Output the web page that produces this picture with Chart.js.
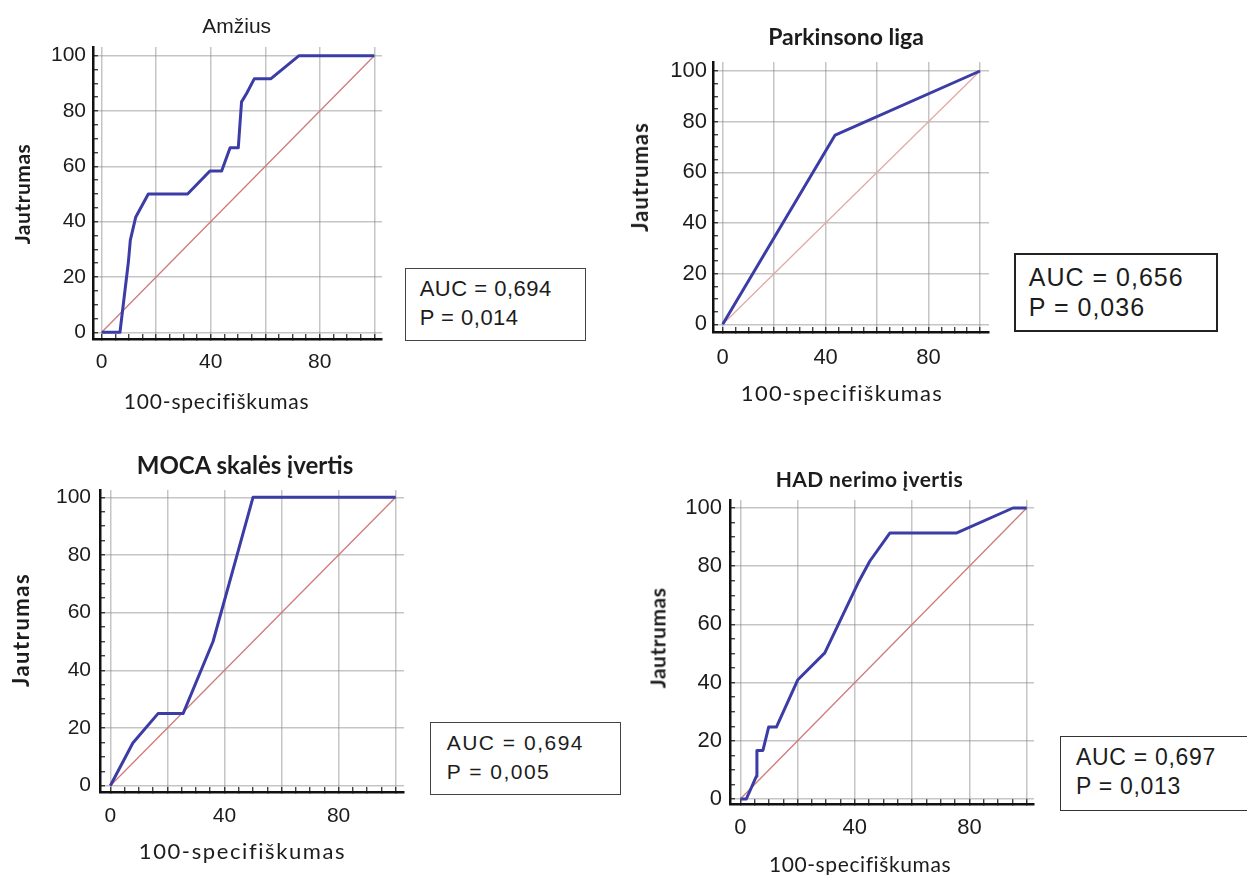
<!DOCTYPE html>
<html>
<head>
<meta charset="utf-8">
<script src="https://cdn.jsdelivr.net/npm/chart.js@4.4.1/dist/chart.umd.min.js"></script>
<style>
  html, body { margin: 0; padding: 0; background: #fff; }
  body { width: 1247px; height: 875px; position: relative; overflow: hidden; }
  canvas { position: absolute; }
  .t { position: absolute; white-space: nowrap; line-height: 1; color: #1c1c1c; transform: translate(-50%, -50%); }
  .ttl { font-family: Lato, sans-serif; font-weight: 700; }
  .yt { font-family: Lato, sans-serif; font-weight: 700; transform: translate(-50%, -50%) rotate(-90deg); }
  .xt { font-family: Lato, sans-serif; font-weight: 400; }
  .box { position: absolute; box-sizing: border-box; background: #fff; }
  .bt { position: absolute; white-space: nowrap; line-height: 1; color: #1c1c1c; font-family: "Liberation Sans", Arial, sans-serif; transform: translateY(-50%); }
</style>
</head>
<body>
<canvas id="c1"></canvas>
<canvas id="c2"></canvas>
<canvas id="c3"></canvas>
<canvas id="c4"></canvas>

<!-- Chart 1 texts -->
<div class="t" style="left:236.7px;top:25.3px;font-family:'Liberation Sans',Arial,sans-serif;font-size:21px;">Amžius</div>
<div class="t yt" style="left:20.8px;top:194px;font-size:21px;letter-spacing:0.5px;">Jautrumas</div>
<div class="t xt" style="left:216.7px;top:400px;font-size:21px;letter-spacing:0.8px;">100-specifiškumas</div>
<div class="box" style="left:405px;top:268px;width:181px;height:73px;border:1.5px solid #444;"></div>
<div class="bt" style="left:419.7px;top:289.3px;font-size:22px;letter-spacing:0.5px;">AUC = 0,694</div>
<div class="bt" style="left:419.7px;top:318.2px;font-size:22px;letter-spacing:0.5px;">P = 0,014</div>

<!-- Chart 2 texts -->
<div class="t ttl" style="left:846px;top:35.8px;font-size:23px;">Parkinsono liga</div>
<div class="t yt" style="left:640px;top:176.7px;font-size:22px;letter-spacing:1px;">Jautrumas</div>
<div class="t xt" style="left:842px;top:392.5px;font-size:22px;letter-spacing:1.3px;">100-specifiškumas</div>
<div class="box" style="left:1014px;top:253px;width:204px;height:79px;border:2px solid #222;"></div>
<div class="bt" style="left:1028.8px;top:277.2px;font-size:25px;letter-spacing:1px;">AUC = 0,656</div>
<div class="bt" style="left:1028.8px;top:307.2px;font-size:25px;letter-spacing:1px;">P = 0,036</div>

<!-- Chart 3 texts -->
<div class="t ttl" style="left:245px;top:464.5px;font-size:24px;">MOCA skalės įvertis</div>
<div class="t yt" style="left:21px;top:630px;font-size:22px;letter-spacing:1.5px;">Jautrumas</div>
<div class="t xt" style="left:242.5px;top:851.3px;font-size:22px;letter-spacing:1.6px;">100-specifiškumas</div>
<div class="box" style="left:430px;top:722px;width:191px;height:73px;border:1.5px solid #444;"></div>
<div class="bt" style="left:446.7px;top:742px;font-size:21px;letter-spacing:1.5px;">AUC = 0,694</div>
<div class="bt" style="left:446.7px;top:771.3px;font-size:21px;letter-spacing:1.5px;">P = 0,005</div>

<!-- Chart 4 texts -->
<div class="t ttl" style="left:869.4px;top:477.5px;font-size:21px;letter-spacing:0.4px;">HAD nerimo įvertis</div>
<div class="t yt" style="left:657.4px;top:638.3px;font-size:21px;letter-spacing:0.5px;">Jautrumas</div>
<div class="t xt" style="left:860px;top:862.5px;font-size:21px;letter-spacing:0.6px;">100-specifiškumas</div>
<div class="box" style="left:1060px;top:736px;width:200px;height:75px;border:1.5px solid #333;"></div>
<div class="bt" style="left:1076px;top:756.7px;font-size:23px;letter-spacing:0.7px;">AUC = 0,697</div>
<div class="bt" style="left:1076px;top:785.6px;font-size:23px;letter-spacing:0.7px;">P = 0,013</div>

<script>
// ---------------- DATA ----------------
// Amžius (age)
const ageFpr = [0, 6.7, 9.8, 10.5, 12.5, 17.1, 31.5, 39.7, 44.0, 47.1, 50.1, 51.3, 53.2, 56.0, 62.1, 72.4, 100];
const ageTpr = [0, 0, 25.5, 33.3, 41.7, 50.0, 50.0, 58.3, 58.3, 66.7, 66.7, 83.3, 86.4, 91.7, 91.7, 100, 100];
// Parkinsono liga
const pdFpr = [0, 43.7, 100];
const pdTpr = [0, 74.7, 100];
// MOCA skalės įvertis
const mocaFpr = [0, 7.9, 16.7, 25.5, 36.0, 43.0, 50.0, 100];
const mocaTpr = [0, 14.8, 25.0, 25.0, 50.0, 74.9, 100, 100];
// HAD nerimo įvertis
const hadFpr = [0, 2.1, 5.6, 5.8, 7.9, 9.9, 12.6, 20.1, 29.5, 41.1, 45.2, 52.2, 75.4, 95.2, 100];
const hadTpr = [0, 0, 7.8, 16.7, 16.7, 24.7, 24.7, 41.0, 50.2, 74.2, 81.7, 91.4, 91.4, 100, 100];
// reference diagonal
const diagX = [0, 100];
const diagY = [0, 100];
// ticks
const tickValues = [0, 5, 10, 15, 20, 25, 30, 35, 40, 45, 50, 55, 60, 65, 70, 75, 80, 85, 90, 95, 100];
const gridValues = [0, 20, 40, 60, 80, 100];
const xLabelValues = [0, 40, 80];
const yLabelValues = [0, 20, 40, 60, 80, 100];

// ---------------- LAYOUT ----------------
const WY = 64, PAD_TOP = 42, PAD_RIGHT = 34, HX = 50;
const charts = [
  { id: 'c1', fpr: ageFpr, tpr: ageTpr, L: 93, R: 382, T: 47, B: 339, x0: 101.7, x100: 374.3, y100: 55.7, y0: 332.3,
    font: 21, yPad: 12, xPad: 15.4, diag: '#cf7b7b', curve: '#3c3ca6' },
  { id: 'c2', fpr: pdFpr, tpr: pdTpr, L: 713, R: 989, T: 62, B: 332, x0: 722.7, x100: 980, y100: 71, y0: 324.3,
    font: 22, yPad: 11, xPad: 18.1, diag: '#e2a9a9', curve: '#3c3ca6' },
  { id: 'c3', fpr: mocaFpr, tpr: mocaTpr, L: 100, R: 404, T: 490, B: 792, x0: 110.3, x100: 395.7, y100: 497.3, y0: 785.7,
    font: 21, yPad: 14, xPad: 16.2, diag: '#cf7b7b', curve: '#3c3ca6' },
  { id: 'c4', fpr: hadFpr, tpr: hadTpr, L: 730, R: 1034, T: 500, B: 804, x0: 740.3, x100: 1026.7, y100: 508, y0: 799,
    font: 22, yPad: 13, xPad: 16.1, diag: '#cf7b7b', curve: '#3c3ca6' }
];

function rangeFor(a0, a1, p0, p100) {
  const unit = (p100 - p0) / 100;
  const vA0 = (a0 - p0) / unit;
  const vA1 = (a1 - p0) / unit;
  return [Math.min(vA0, vA1), Math.max(vA0, vA1)];
}

function pts(xs, ys) { return xs.map((x, i) => ({ x: x, y: ys[i] })); }

const gridColor = 'rgba(140,140,140,0.5)';

charts.forEach(c => {
  const cv = document.getElementById(c.id);
  const w = (c.R - c.L) + WY + PAD_RIGHT;
  const h = (c.B - c.T) + PAD_TOP + HX;
  cv.width = w; cv.height = h;
  cv.style.left = (c.L - WY) + 'px';
  cv.style.top = (c.T - PAD_TOP) + 'px';
  cv.style.width = w + 'px'; cv.style.height = h + 'px';
  const [xmin, xmax] = rangeFor(c.L, c.R, c.x0, c.x100);
  const [ymin, ymax] = rangeFor(c.B, c.T, c.y0, c.y100);
  const tickFont = { family: "'Liberation Sans', Arial, sans-serif", size: c.font };
  new Chart(cv, {
    type: 'scatter',
    data: {
      datasets: [
        { data: pts(c.fpr, c.tpr), showLine: true, borderColor: c.curve, borderWidth: 3, pointRadius: 0, fill: false, tension: 0, borderJoinStyle: 'round' },
        { data: pts(diagX, diagY), showLine: true, borderColor: c.diag, borderWidth: 1.3, pointRadius: 0, fill: false }
      ]
    },
    options: {
      responsive: false,
      animation: false,
      devicePixelRatio: 1,
      layout: { padding: { top: PAD_TOP, right: PAD_RIGHT, left: 0, bottom: 0 } },
      plugins: { legend: { display: false }, tooltip: { enabled: false }, title: { display: false } },
      scales: {
        x: {
          type: 'linear', min: xmin, max: xmax,
          afterBuildTicks: s => { s.ticks = tickValues.map(v => ({ value: v })); },
          afterFit: s => { s.height = HX; },
          grid: {
            color: ctx => (ctx.tick && gridValues.includes(ctx.tick.value)) ? gridColor : 'rgba(0,0,0,0)',
            lineWidth: 1.5, tickLength: -5, tickColor: '#222', tickWidth: 1.2, drawTicks: true
          },
          border: { display: true, color: '#111', width: 2.5 },
          ticks: {
            autoSkip: false, maxRotation: 0, padding: c.xPad, color: '#1c1c1c', font: tickFont,
            callback: v => xLabelValues.includes(v) ? String(v) : ''
          }
        },
        y: {
          type: 'linear', min: ymin, max: ymax,
          afterBuildTicks: s => { s.ticks = tickValues.map(v => ({ value: v })); },
          afterFit: s => { s.width = WY; },
          grid: {
            color: ctx => (ctx.tick && gridValues.includes(ctx.tick.value)) ? gridColor : 'rgba(0,0,0,0)',
            lineWidth: 1.5, tickLength: -5, tickColor: '#222', tickWidth: 1.2, drawTicks: true
          },
          border: { display: true, color: '#111', width: 2.5 },
          ticks: {
            autoSkip: false, padding: c.yPad, color: '#1c1c1c', font: tickFont,
            callback: v => yLabelValues.includes(v) ? String(v) : ''
          }
        }
      }
    }
  });
});
</script>
</body>
</html>
